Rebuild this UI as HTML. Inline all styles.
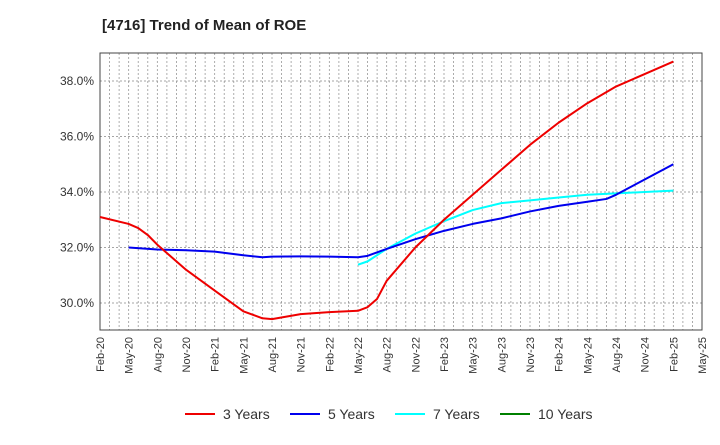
<!DOCTYPE html>
<html><head><meta charset="utf-8"><style>
body{margin:0;background:#fff;font-family:"Liberation Sans",sans-serif}
</style></head><body>
<svg id="c" width="720" height="440" xmlns="http://www.w3.org/2000/svg" font-family="Liberation Sans, sans-serif">
<text x="102" y="30" font-size="15" font-weight="bold" fill="#222">[4716]  Trend of Mean of ROE</text>
<g id="grid"></g>
<g id="series"></g>
<g id="legend"></g>
</svg>
<script>
const xTickLabels=["Feb-20","May-20","Aug-20","Nov-20","Feb-21","May-21","Aug-21","Nov-21","Feb-22","May-22","Aug-22","Nov-22","Feb-23","May-23","Aug-23","Nov-23","Feb-24","May-24","Aug-24","Nov-24","Feb-25","May-25"];
const yTicks=[30,32,34,36,38];
const redMonths=[0,3,4,5,6,9,12,15,17,18,21,24,27,28,29,30,33,36,39,42,45,48,51,54,57,60];
const redValues=[33.1,32.85,32.7,32.45,32.1,31.2,30.45,29.7,29.45,29.42,29.6,29.67,29.72,29.85,30.15,30.8,32.0,33.0,33.9,34.8,35.7,36.5,37.2,37.8,38.25,38.7];
const blueMonths=[3,6,9,12,15,17,18,21,24,27,28,30,33,36,39,42,45,48,51,53,54,57,60];
const blueValues=[32.0,31.93,31.9,31.85,31.72,31.65,31.67,31.68,31.67,31.65,31.7,31.95,32.3,32.6,32.85,33.05,33.3,33.5,33.65,33.75,33.9,34.45,35.0];
const cyanMonths=[27,28,30,33,36,39,42,45,48,51,54,57,60];
const cyanValues=[31.38,31.5,31.95,32.5,32.95,33.35,33.6,33.7,33.8,33.9,33.95,34.0,34.05];
const greenMonths=[];
const greenValues=[];
const L=100,R=702,T=53,B=330;
const X=m=>L+m*(R-L)/63;
const Y=v=>303-(v-30)*27.75;
const NS="http://www.w3.org/2000/svg";
function mk(tag,attrs,parent){const e=document.createElementNS(NS,tag);for(const k in attrs)e.setAttribute(k,attrs[k]);parent.appendChild(e);return e;}
const g=document.getElementById('grid');
for(let m=0;m<=63;m++){
  const l=mk('line',{x1:X(m),x2:X(m),y1:T,y2:B,stroke:'#999','stroke-width':0.8,'stroke-dasharray':'2,2'},g);
  
  
}
yTicks.forEach(v=>{
  const l=mk('line',{x1:L,x2:R,y1:Y(v),y2:Y(v),stroke:'#888','stroke-width':0.8,'stroke-dasharray':'2,2'},g);
  
  
  const t=mk('text',{x:L-6,y:Y(v)+4,'text-anchor':'end','font-size':12,fill:'#333'},g);
  t.textContent=v.toFixed(1)+'%';
  
  
});
xTickLabels.forEach((s,i)=>{
  const x=X(i*3);
  const t=mk('text',{x:0,y:0,transform:`translate(${x+4},337) rotate(-90)`,'text-anchor':'end','font-size':11,fill:'#333'},g);
  t.textContent=s;
  
  
});
const frame=mk('rect',{x:L,y:T,width:R-L,height:B-T,fill:'none',stroke:'#444','stroke-width':1},g);


const sg=document.getElementById('series');
function line(ms,vs,color,name){
  if(!ms.length)return;
  const p=mk('polyline',{points:ms.map((m,i)=>X(m)+','+Y(vs[i])).join(' '),fill:'none',stroke:color,'stroke-width':2,'stroke-linejoin':'round'},sg);
  
  
}
line(cyanMonths,cyanValues,'#00ffff','series-7-years');
line(blueMonths,blueValues,'#0000ee','series-5-years');
line(redMonths,redValues,'#ee0000','series-3-years');
line(greenMonths,greenValues,'#008000','series-10-years');
const lg=document.getElementById('legend');
[['3 Years','#ee0000',185],['5 Years','#0000ee',290],['7 Years','#00ffff',395],['10 Years','#008000',500]].forEach(([n,c,x])=>{
  const gg=mk('g',{},lg);
  
  
  mk('line',{x1:x,x2:x+30,y1:414,y2:414,stroke:c,'stroke-width':2},gg);
  const t=mk('text',{x:x+38,y:419,'font-size':14,fill:'#333'},gg);
  t.textContent=n;
});
</script>
</body></html>
